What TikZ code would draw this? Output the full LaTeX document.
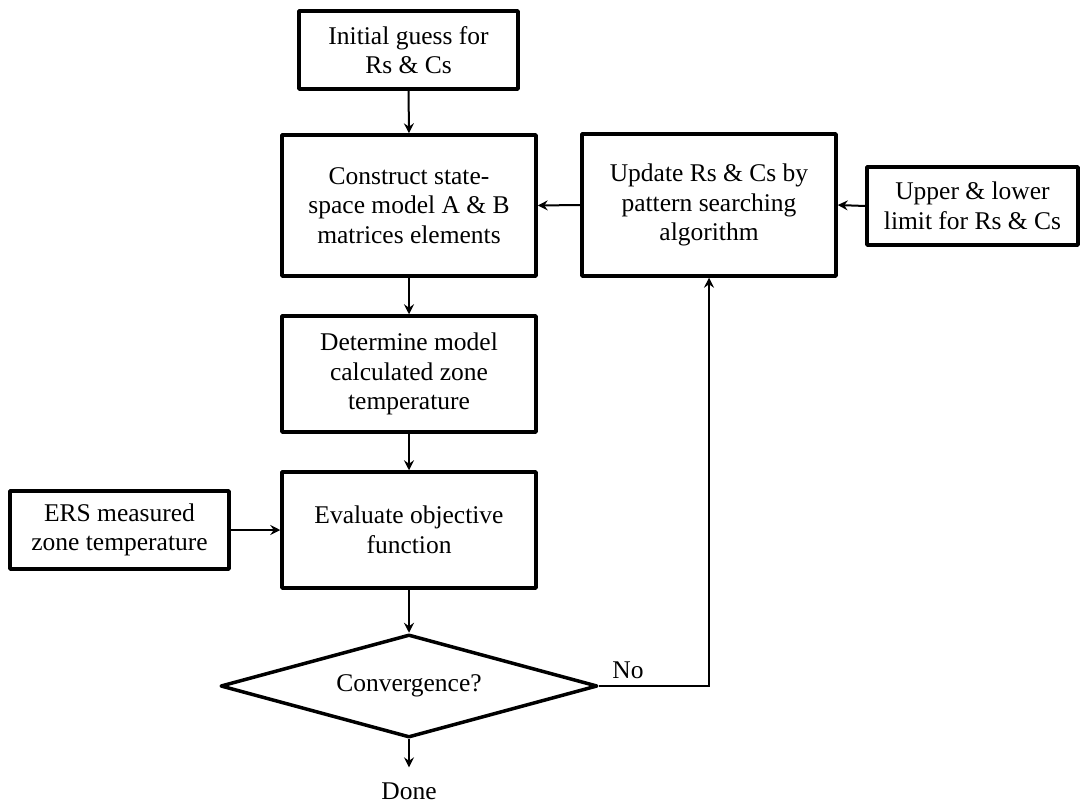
\documentclass[tikz,border=0pt]{standalone}
\usepackage{fontspec}
\setmainfont{Liberation Serif}
\usetikzlibrary{arrows.meta,shapes.geometric}

\begin{document}
\begin{tikzpicture}[x=1pt,y=-1pt,
  font=\fontsize{25.5}{29.5}\selectfont,
  stepbox/.style={draw,line width=3.5pt,line join=round,align=center,inner sep=0pt},
  decision/.style={draw,diamond,line width=3.5pt,line join=round,inner sep=0pt,
    minimum width=377pt,minimum height=103pt,shape aspect=3.66},
  tip/.style={-{Stealth[length=10pt,width=10pt,inset=3.5pt]}},
  flow/.style={line width=2pt,tip},
  loopback/.style={line width=1.3pt,-{Stealth[length=10pt,width=10pt,inset=3.5pt,line width=0.7pt]}}
]
\useasboundingbox (0,0) rectangle (1080,803);

% process steps
\node[stepbox,minimum width=219pt,minimum height=78pt] (init) at (408.5,50)
  {Initial guess for\\Rs \& Cs};
\node[stepbox,minimum width=254pt,minimum height=141pt] (construct) at (409,205.5)
  {Construct state-\\space model A \& B\\matrices elements};
\node[stepbox,minimum width=254pt,minimum height=142pt] (update) at (709,205)
  {Update Rs \& Cs by\\pattern searching\\algorithm};
\node[stepbox,minimum width=211pt,minimum height=78pt] (limits) at (972.5,206)
  {Upper \& lower\\limit for Rs \& Cs};
\node[stepbox,minimum width=254pt,minimum height=116pt] (determine) at (409,374)
  {Determine model\\calculated zone\\temperature};
\node[stepbox,minimum width=219pt,minimum height=78pt] (ers) at (119.5,530)
  {ERS measured\\zone temperature};
\node[stepbox,minimum width=254pt,minimum height=116pt] (evaluate) at (409,530)
  {Evaluate objective\\function};
\node[decision] (conv) at (409,686) {Convergence?};
\node[inner sep=0pt] (done) at (409,791) {Done};
\node[inner sep=0pt] (no) at (628,670) {No};

% connectors
\draw[flow] (init.south) -- (construct.north);
\draw[flow] (update.west) -- (construct.east);
\draw[flow] (limits.west) -- (update.east);
\draw[flow] (construct.south) -- (determine.north);
\draw[flow] (determine.south) -- (evaluate.north);
\draw[flow] (ers.east) -- (evaluate.west);
\draw[flow] (evaluate.south) -- (conv.north);
\draw[flow,shorten >=15pt] (conv.south) -- (done.north);
\draw[loopback] (conv.east) -| (update.south);
\end{tikzpicture}
\end{document}
